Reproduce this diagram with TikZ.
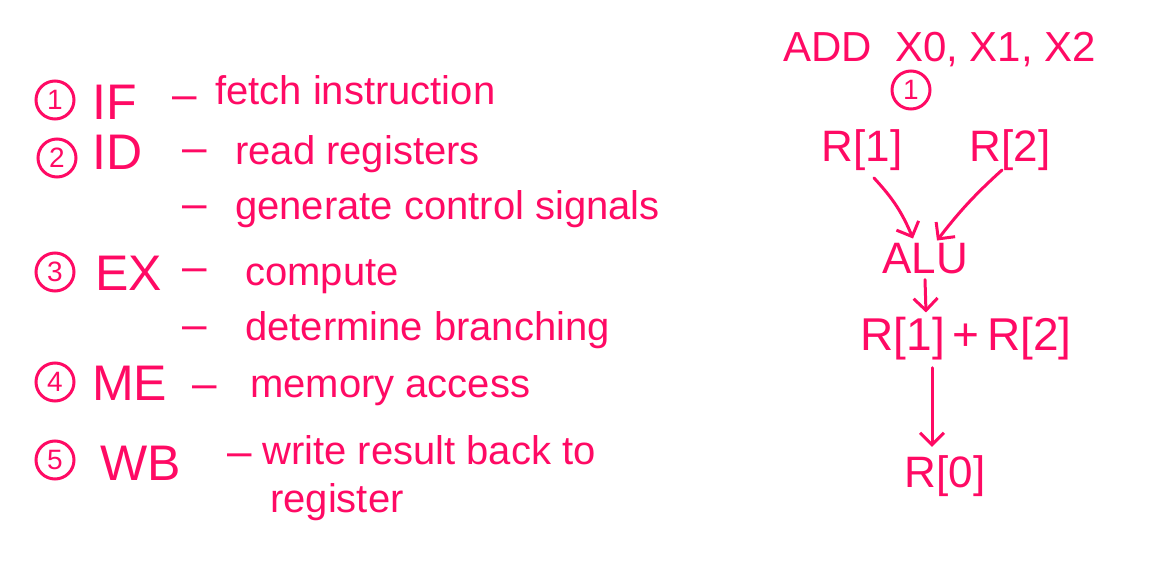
\documentclass[tikz,border=0pt]{standalone}
\usepackage{fontspec}
\setmainfont{Liberation Sans}
\usetikzlibrary{arrows.meta}
\definecolor{ink}{RGB}{255,10,100}
\begin{document}
\begin{tikzpicture}[x=1pt,y=-1pt,
  every node/.style={text=ink, inner sep=0pt},
  lab/.style={font=\fontsize{50}{60}\selectfont, anchor=base west},
  desc/.style={font=\fontsize{40}{48}\selectfont, anchor=base west},
  dsh/.style={font=\fontsize{44}{48}\selectfont},
  num/.style={draw=ink, line width=3pt, circle, minimum size=38pt, font=\fontsize{28}{30}\selectfont},
  reg/.style={font=\fontsize{44}{52}\selectfont, anchor=base},
  arr/.style={draw=ink, line width=3pt, line cap=round, -{Straight Barb[length=12pt,width=24pt,line width=3pt]}}]
\useasboundingbox (0,0) rectangle (1159,572);
% left list
\node[num] (n1) at (55,100) {1};
\node[lab] (if) at (92,120) {IF};
\node[dsh] (d1) at (185,103) {–};
\node[desc] (t1) at (215,105) {fetch instruction};
\node[num] (n2) at (57,158) {2};
\node[lab] (id) at (92,170) {ID};
\node[dsh] (d2) at (195,156) {–};
\node[desc] (t2) at (235,165) {read registers};
\node[dsh] (d3) at (195,212) {–};
\node[desc] (t3) at (235,220) {generate control signals};
\node[num] (n3) at (55,272) {3};
\node[lab] (ex) at (95,290) {EX};
\node[dsh] (d4) at (195,275) {–};
\node[desc] (t4) at (245,285) {compute};
\node[dsh] (d5) at (195,333) {–};
\node[desc] (t5) at (245,340) {determine branching};
\node[num] (n4) at (55,382) {4};
\node[lab] (me) at (92,400) {ME};
\node[dsh] (d6) at (205,392) {–};
\node[desc] (t6) at (250,397) {memory access};
\node[num] (n5) at (55,460) {5};
\node[lab] (wb) at (100,480) {WB};
\node[dsh] (d7) at (240,460) {–};
\node[desc] (t7) at (262,464) {write result back to};
\node[desc] (t8) at (270,512) {register};
% right side
\node[font=\fontsize{42}{50}\selectfont, anchor=base west] (add) at (783,62) {ADD\ \ X0, X1, X2};
\node[num] (c1) at (911,90) {1};
\node[reg] (r1) at (862,162) {R[1]};
\node[reg] (r2) at (1010,162) {R[2]};
\node[reg] (alu) at (925,273) {ALU};
\node[reg, font=\fontsize{46}{54}\selectfont] (sum) at (966,350) {R[1]\,+\,R[2]};
\node[reg] (r0) at (945,487) {R[0]};
\coordinate (a1s) at (874,178);
\coordinate (a2s) at (1002,170);
\draw[arr] (a1s) to[bend left=10] ([xshift=-12pt,yshift=4pt]alu.north);
\draw[arr] (a2s) to[bend right=5] ([xshift=12pt,yshift=2pt]alu.north);
\draw[arr] ([yshift=-6pt]alu.south) -- ([xshift=-40pt,yshift=4pt]sum.north);
\draw[arr] ([xshift=-34pt,yshift=-8pt]sum.south) -- ([xshift=-13pt,yshift=8pt]r0.north);
\end{tikzpicture}
\end{document}
